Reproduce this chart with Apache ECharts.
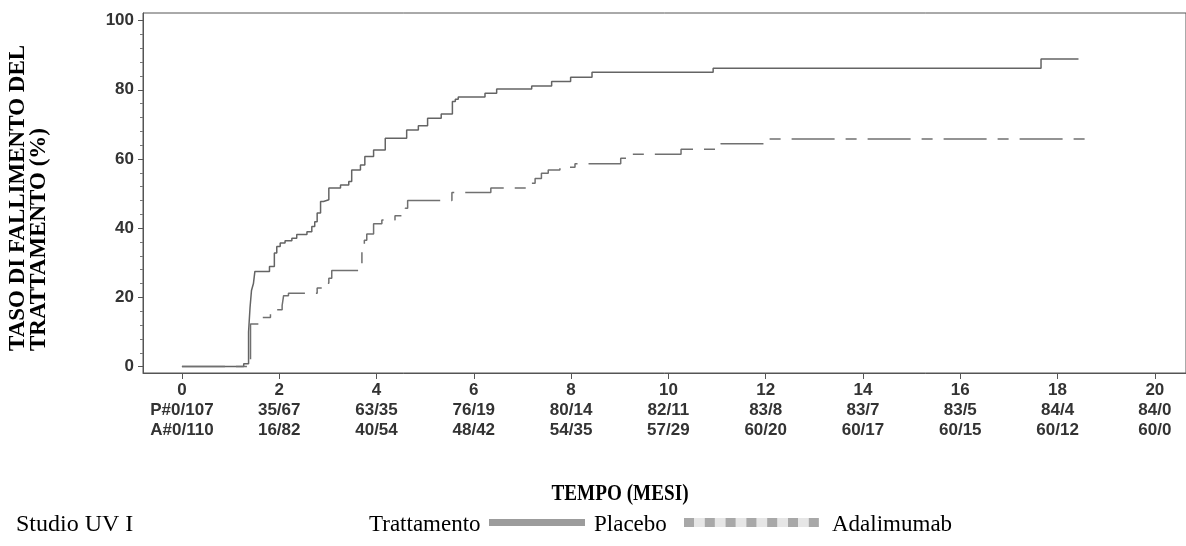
<!DOCTYPE html>
<html>
<head>
<meta charset="utf-8">
<script src="https://cdn.jsdelivr.net/npm/echarts@6/dist/echarts.min.js"></script>
<style>
  html, body { margin: 0; padding: 0; background: #fff; }
  #chart { width: 1186px; height: 546px; }
</style>
</head>
<body>
<div id="chart"></div>
<script>
// Kaplan-Meier treatment failure curves (month, cumulative %)
const placeboMonths = [0, 1.27, 1.37, 1.40, 1.43, 1.47, 1.50, 1.80, 1.90, 1.95, 2.02, 2.12, 2.26, 2.36, 2.57, 2.67, 2.73, 2.78, 2.85, 2.91, 3.02, 3.26, 3.43, 3.49, 3.67, 3.76, 3.94, 4.18, 4.62, 4.86, 5.05, 5.33, 5.56, 5.62, 5.68, 6.23, 6.47, 7.19, 7.60, 7.99, 8.43, 10.92, 17.66, 18.43];
const placeboRate   = [0, 0.8, 10, 17, 22, 24, 27.5, 28.9, 32.8, 34.7, 35.7, 36.4, 37.1, 38.2, 39.0, 40.5, 41.9, 44.4, 47.7, 48.2, 51.6, 52.5, 53.5, 56.8, 58.3, 60.7, 62.6, 66.0, 68.4, 69.6, 71.8, 73.0, 76.6, 77.3, 77.9, 79.0, 80.2, 81.1, 82.4, 83.6, 85.1, 86.2, 88.9, 88.9];

const adaMonths = [0, 1.41, 1.58, 1.82, 1.95, 2.06, 2.09, 2.19, 2.78, 2.88, 3.02, 3.08, 3.70, 3.75, 3.80, 3.94, 4.11, 4.38, 4.59, 4.64, 5.55, 6.35, 7.15, 7.26, 7.39, 7.53, 7.77, 8.08, 9.02, 9.24, 10.26, 11.08, 12.00, 18.67];
const adaRate   = [0, 12.3, 14.2, 15.2, 16.4, 17.6, 20.5, 21.2, 22.7, 24.1, 25.5, 27.8, 34.7, 36.5, 38.3, 41.3, 42.4, 43.6, 45.8, 48.0, 50.3, 51.6, 53.0, 54.4, 55.9, 56.8, 57.6, 58.6, 60.2, 61.4, 62.8, 64.4, 65.8, 65.8];

// Axis ticks and numbers at risk (events / at risk)
const xTicks = [0, 2, 4, 6, 8, 10, 12, 14, 16, 18, 20];
const placeboRisk = ['P#0/107', '35/67', '63/35', '76/19', '80/14', '82/11', '83/8', '83/7', '83/5', '84/4', '84/0'];
const adaRisk     = ['A#0/110', '16/82', '40/54', '48/42', '54/35', '57/29', '60/20', '60/17', '60/15', '60/12', '60/0'];
const yTicks = [0, 20, 40, 60, 80, 100];
const yMinorTicks = [4, 8, 12, 16, 24, 28, 32, 36, 44, 48, 52, 56, 64, 68, 72, 76, 84, 88, 92, 96];

const pairs = (xs, ys) => xs.map((x, i) => [x, ys[i]]);

const axisColor = '#555';
const sansLabel = { fontFamily: 'Liberation Sans', fontWeight: 'bold', fontSize: 17, color: '#333' };
const serif = 'Liberation Serif';

const chart = echarts.init(document.getElementById('chart'), null, { renderer: 'canvas' });

chart.setOption({
  animation: false,
  backgroundColor: '#fff',
  grid: {
    left: 143, top: 13, width: 1045, height: 360,
    show: true, borderColor: axisColor, borderWidth: 1
  },
  xAxis: {
    type: 'value', min: -0.8, max: 20.64,
    axisLine: { show: true, onZero: false, lineStyle: { color: axisColor } },
    axisTick: { show: true, customValues: xTicks, length: 6, lineStyle: { color: axisColor } },
    splitLine: { show: false },
    axisLabel: {
      customValues: xTicks,
      margin: 7,
      lineHeight: 20,
      ...sansLabel,
      formatter: v => {
        const i = xTicks.indexOf(v);
        return i < 0 ? '' : xTicks[i] + '\n' + placeboRisk[i] + '\n' + adaRisk[i];
      }
    }
  },
  yAxis: [{
    type: 'value', min: -1.85, max: 102.2,
    axisLine: { show: true, onZero: false, lineStyle: { color: axisColor } },
    axisTick: { show: true, customValues: yTicks, length: 5, lineStyle: { color: axisColor } },
    splitLine: { show: false },
    axisLabel: { customValues: yTicks, margin: 9, ...sansLabel }
  }, {
    type: 'value', min: -1.85, max: 102.2, position: 'left',
    axisLine: { show: false, onZero: false },
    axisTick: { show: true, customValues: yMinorTicks, length: 3, lineStyle: { color: '#777' } },
    splitLine: { show: false },
    axisLabel: { show: false }
  }],
  series: [{
    name: 'Placebo', type: 'line', step: 'end', symbol: 'none',
    data: pairs(placeboMonths, placeboRate),
    lineStyle: { color: '#646464', width: 1.5 }
  }, {
    name: 'Adalimumab', type: 'line', step: 'end', symbol: 'none',
    data: pairs(adaMonths, adaRate),
    lineStyle: { color: '#707070', width: 1.5, type: [43, 11, 11, 11] }
  }],
  graphic: [
    // vertical axis title, two lines reading bottom to top
    { type: 'text', x: 18, y: 351, rotation: Math.PI / 2,
      style: { text: 'TASO DI FALLIMENTO DEL', x: 0, y: 0, align: 'left', verticalAlign: 'middle',
               fontFamily: serif, fontWeight: 'bold', fontSize: 23, fill: '#000' } },
    { type: 'text', x: 39, y: 351, rotation: Math.PI / 2,
      style: { text: 'TRATTAMENTO (%)', x: 0, y: 0, align: 'left', verticalAlign: 'middle',
               fontFamily: serif, fontWeight: 'bold', fontSize: 23, fill: '#000' } },
    // horizontal axis title
    { type: 'text', x: 620, y: 494, scaleX: 0.8,
      style: { text: 'TEMPO (MESI)', align: 'center', verticalAlign: 'middle',
               fontFamily: serif, fontWeight: 'bold', fontSize: 24, fill: '#000' } },
    // study and treatment key
    { type: 'text', x: 16, y: 525,
      style: { text: 'Studio UV I', align: 'left', verticalAlign: 'middle',
               fontFamily: serif, fontSize: 24, fill: '#000' } },
    { type: 'text', x: 369, y: 525,
      style: { text: 'Trattamento', align: 'left', verticalAlign: 'middle',
               fontFamily: serif, fontSize: 23, fill: '#000' } },
    { type: 'rect', shape: { x: 489, y: 519, width: 96, height: 7 },
      style: { fill: '#9c9c9c' } },
    { type: 'text', x: 594, y: 525,
      style: { text: 'Placebo', align: 'left', verticalAlign: 'middle',
               fontFamily: serif, fontSize: 23, fill: '#000' } },
    { type: 'rect', shape: { x: 684, y: 518, width: 135, height: 9 },
      style: { fill: '#e6e6e6' } },
    ...[0, 1, 2, 3, 4, 5, 6].map(k => ({
      type: 'rect', shape: { x: 684 + k * 20.8, y: 518, width: 10, height: 9 },
      style: { fill: '#a8a8a8' }
    })),
    { type: 'text', x: 832, y: 525,
      style: { text: 'Adalimumab', align: 'left', verticalAlign: 'middle',
               fontFamily: serif, fontSize: 23, fill: '#000' } }
  ]
});
</script>
</body>
</html>
